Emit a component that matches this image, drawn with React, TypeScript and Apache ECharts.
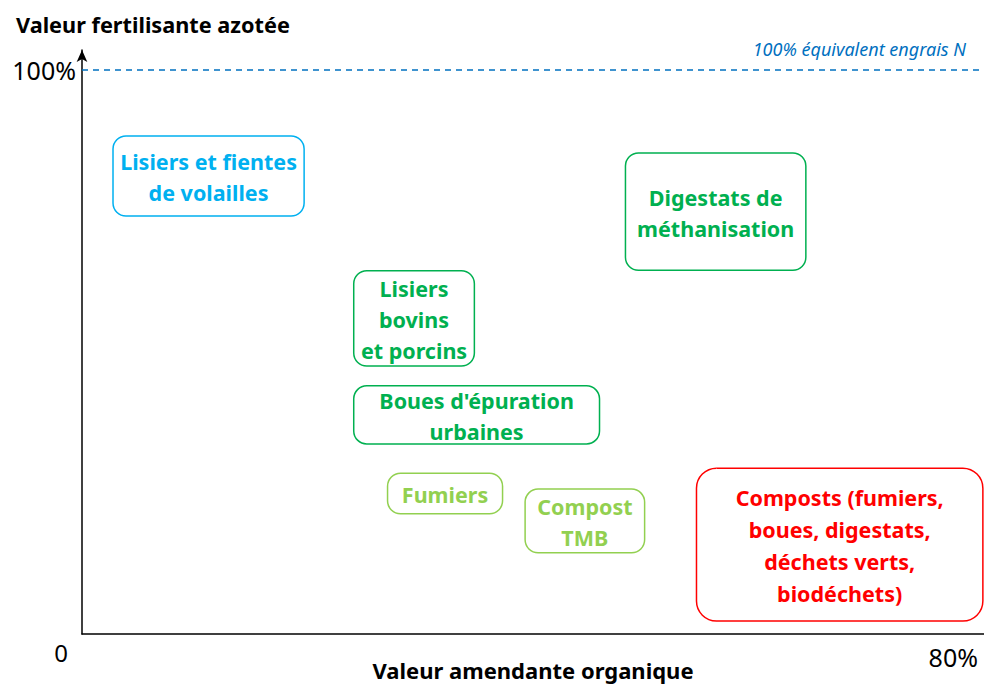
import React, { useEffect, useRef } from "react";
import * as echarts from "echarts";

// Groups of organic products: ranges of organic amendment value (x, %) and nitrogen fertiliser value (y, %)
const categories = [
  "Lisiers et fientes\nde volailles",
  "Digestats de\nméthanisation",
  "Lisiers\nbovins\net porcins",
  "Boues d'épuration\nurbaines",
  "Fumiers",
  "Compost\nTMB",
  "Composts (fumiers,\nboues, digestats,\ndéchets verts,\nbiodéchets)",
];
const amendMin = [2.75, 48.2, 24.1, 24.1, 27.1, 39.3, 54.5];
const amendMax = [19.7, 64.2, 34.8, 45.9, 37.3, 49.9, 79.9];
const fertMin = [74.1, 64.5, 47.5, 33.7, 21.3, 14.4, 2.3];
const fertMax = [88.3, 85.3, 64.4, 44.0, 28.5, 25.7, 29.4];
const groupColors = ["#00B0F0", "#00B050", "#00B050", "#00B050", "#92D050", "#92D050", "#FF0000"];

const xTickLabels = ["0", "80%"];
const yTickLabels = ["100%"];
const referenceLevel = 100;
const referenceLabel = "100% équivalent engrais N";

const FONT = '"Noto Sans", "DejaVu Sans", sans-serif';

export default function App() {
  const ref = useRef<HTMLDivElement>(null);
  useEffect(() => {
    if (!ref.current) return;
    const chart = echarts.init(ref.current, null, { renderer: "svg" });
    const data = categories.map((c, i) => [amendMin[i], fertMax[i], amendMax[i], fertMin[i]]);
    chart.setOption({
      animation: false,
      title: {
        text: "Valeur fertilisante azotée",
        left: 11,
        top: 8,
        textStyle: { fontFamily: FONT, fontWeight: "bold", fontSize: 21.7, color: "#000" },
      },
      grid: { left: 82, right: 0, top: 50, bottom: 50, outerBoundsMode: "none", containLabel: false },
      xAxis: {
        type: "value",
        min: 0,
        max: 80,
        interval: 80,
        name: "Valeur amendante organique",
        nameLocation: "middle",
        nameGap: 24,
        nameMoveOverlap: false,
        nameTextStyle: {
          fontFamily: FONT,
          fontWeight: "bold",
          fontSize: 22,
          color: "#000",
          verticalAlign: "top",
          lineHeight: 24,
        },
        axisLine: { lineStyle: { color: "#000", width: 1.5 } },
        axisTick: { show: false },
        splitLine: { show: false },
        axisLabel: {
          margin: 6,
          align: "right",
          formatter: (v: number) =>
            v === 0 ? "{a|" + xTickLabels[0] + "}" : v === 80 ? "{b|" + xTickLabels[1] + "}" : "",
          rich: {
            a: { fontFamily: FONT, fontSize: 24, color: "#000", padding: [0, 14, 0, 0] },
            b: { fontFamily: FONT, fontSize: 25, color: "#000", padding: [4, 6, 0, 0] },
          },
        },
      },
      yAxis: {
        type: "value",
        min: 0,
        max: (100 * 584) / 564,
        interval: 100,
        axisLine: {
          lineStyle: { color: "#000", width: 1.5 },
          symbol: ["none", "arrow"],
          symbolSize: [8, 12],
        },
        axisTick: { show: false },
        splitLine: { show: false },
        axisLabel: {
          margin: 6,
          fontFamily: FONT,
          fontSize: 25,
          color: "#000",
          padding: [6, 0, 0, 0],
          formatter: (v: number) => (v === 100 ? yTickLabels[0] : ""),
        },
      },
      series: [
        {
          type: "custom",
          clip: false,
          data,
          renderItem: (params: any, api: any) => {
            const p1 = api.coord([api.value(0), api.value(1)]);
            const p2 = api.coord([api.value(2), api.value(3)]);
            const i = params.dataIndex;
            const col = groupColors[i];
            const w = p2[0] - p1[0];
            const h = p2[1] - p1[1];
            return {
              type: "group",
              children: [
                {
                  type: "rect",
                  shape: { x: p1[0], y: p1[1], width: w, height: h, r: i === 6 ? 20 : 13 },
                  style: { fill: "#fff", stroke: col, lineWidth: 1.5 },
                },
                {
                  type: "text",
                  style: {
                    x: p1[0] + w / 2,
                    y: p1[1] + h / 2 + 1,
                    text: categories[i],
                    fill: col,
                    fontFamily: FONT,
                    fontWeight: "bold",
                    fontSize: 21.5,
                    lineHeight: i === 6 ? 32 : 31,
                    align: "center",
                    verticalAlign: "middle",
                  },
                },
              ],
            };
          },
          markLine: {
            silent: true,
            symbol: ["none", "none"],
            data: [{ yAxis: referenceLevel }],
            lineStyle: { color: "#0070C0", type: [6, 5], width: 1.5 },
            label: {
              show: true,
              position: "insideEndTop",
              formatter: referenceLabel,
              color: "#0070C0",
              fontStyle: "italic",
              fontFamily: FONT,
              fontSize: 18,
              distance: [18, 12],
            },
          },
        },
      ],
    });
    return () => chart.dispose();
  }, []);
  return (
    <div
      ref={ref}
      style={{ position: "fixed", left: 0, top: 0, width: 984, height: 684, background: "#fff" }}
    />
  );
}
